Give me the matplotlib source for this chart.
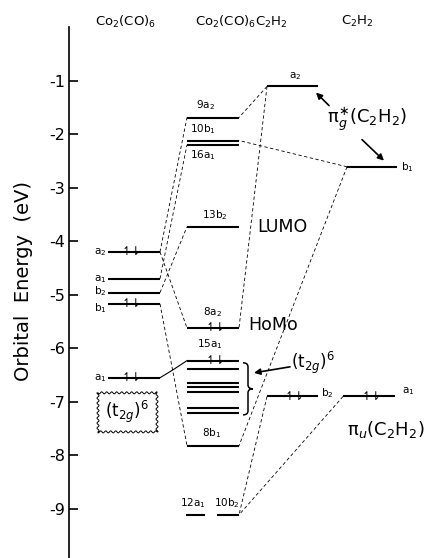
import numpy as np
import matplotlib.pyplot as plt
from matplotlib.path import Path
from matplotlib.patches import PathPatch

plt.rcParams['axes.unicode_minus'] = False
plt.rcParams['mathtext.fontset'] = 'dejavusans'
plt.rcParams['font.family'] = ['DejaVu Sans']

# Niveis do fragmento Co2(CO)6 (eV)
co_nomes = ['a$_2$', 'a$_1$', 'b$_2$', 'b$_1$', 'a$_1$']
co_E = [-4.20, -4.70, -4.96, -5.17, -6.55]
co_ocup = [1, 0, 0, 1, 1]

# Niveis do complexo Co2(CO)6C2H2 (eV)
cx_nomes = ['9a$_2$', '10b$_1$', '16a$_1$', '13b$_2$', '8a$_2$', '15a$_1$',
            '', '', '', '', '', '', '8b$_1$', '12a$_1$', '10b$_2$']
cx_E = [-1.69, -2.12, -2.20, -3.73, -5.62, -6.23,
        -6.38, -6.64, -6.72, -6.81, -7.11, -7.21, -7.82, -9.11, -9.11]
cx_ocup = [0, 0, 0, 0, 1, 1, 0, 0, 0, 0, 0, 0, 0, 0, 0]

# Niveis do C2H2 (eV)
ac_nomes = ['a$_2$', 'b$_1$', 'b$_2$', 'a$_1$']
ac_E = [-1.11, -2.61, -6.90, -6.90]
ac_ocup = [0, 0, 1, 1]

# Correlacoes (tracejadas): fragmento -> complexo e C2H2 -> complexo
lig_co = [(0, 0), (0, 4), (1, 2), (2, 3), (3, 12)]
lig_ac = [(0, 0), (0, 4), (1, 1), (1, 12), (2, 14), (3, 14)]

W, H = 425, 558
fig = plt.figure(figsize=(W/100, H/100), dpi=100)

K = 53.5  # pixels por eV


def E(y):
    # converte linha da imagem (px) em energia
    return -1 - (y - 81) / K


ax = fig.add_axes([69/W, 0, (W-69)/W, 1 - 27/H])
ax.set_xlim(69, W)
ax.set_ylim(E(H), 0)
for s in ['top', 'right', 'bottom']:
    ax.spines[s].set_visible(False)
ax.spines['left'].set_linewidth(1.2)
ax.set_xticks([])
ax.set_yticks(np.arange(-1, -10, -1))
ax.set_yticklabels([str(v) for v in range(-1, -10, -1)])
ax.tick_params(axis='y', direction='in', length=6.5, width=1.2,
               labelsize=11.5, pad=3)

# extensoes horizontais dos niveis
co_x = [(108, 160)] * 5
cx_x = [(187, 239)] * 13 + [(186, 205), (217, 239)]
ac_x = [(267, 318), (347, 397), (267, 318), (343, 395)]

tp = dict(color='k', ha='center', va='center')


def niveis(xs, Es, ocup):
    for (x0, x1), e, o in zip(xs, Es, ocup):
        ax.plot([x0, x1], [e, e], 'k-', lw=1.5, solid_capstyle='butt')
        if o:
            ax.text((x0 + x1) / 2 - 3 if x0 < 180 else (x0 + x1) / 2 + 2, e,
                    '↿⇂', fontsize=8.5, **tp)


niveis(co_x, co_E, co_ocup)
niveis(cx_x, cx_E, cx_ocup)
niveis(ac_x, ac_E, ac_ocup)

# linhas de correlacao
dash = dict(color='k', lw=0.6, ls=(0, (4, 3)))
for i, j in lig_co:
    ax.plot([co_x[i][1], cx_x[j][0]], [co_E[i], cx_E[j]], **dash)
for i, j in lig_ac:
    ax.plot([ac_x[i][0], cx_x[j][1]], [ac_E[i], cx_E[j]], **dash)
ax.plot([co_x[4][1], 173, cx_x[5][0]], [co_E[4], E(370), cx_E[5]],
        'k-', lw=0.8)

# rotulos do fragmento
for nome, e, dy in zip(co_nomes, co_E, [0, 0, 0.02, -0.07, 0]):
    ax.text(100, e + dy, nome, fontsize=7.5, **tp)

# rotulos do complexo
pos_cx = {0: (205, 106), 1: (203, 130), 2: (203, 155), 3: (215, 215),
          4: (212, 312), 5: (210, 344), 12: (212, 433), 13: (193, 503),
          14: (227, 503)}
for i, (x, y) in pos_cx.items():
    ax.text(x, E(y), cx_nomes[i], fontsize=7.5, **tp)

# rotulos do C2H2
pos_ac = [(295, 77), (407, 167), (327, 393), (408, 391)]
for nome, (x, y) in zip(ac_nomes, pos_ac):
    ax.text(x, E(y), nome, fontsize=7.5, **tp)

# cabecalhos
ax.text(126, E(22), 'Co$_2$(CO)$_6$', fontsize=9.5, clip_on=False, **tp)
ax.text(241, E(22), 'Co$_2$(CO)$_6$C$_2$H$_2$', fontsize=9.5, clip_on=False, **tp)
ax.text(357, E(22), 'C$_2$H$_2$', fontsize=9.5, clip_on=False, **tp)

fig.text(24/W, 1 - 281/H, 'Orbital  Energy  (eV)', rotation=90,
         fontsize=14, ha='center', va='center')

# anotacoes
ax.text(257, E(227), 'LUMO', fontsize=12.5, ha='left', va='center')
ax.text(248, E(325), 'HoMo', fontsize=12.5, ha='left', va='center')
ax.text(367, E(120), 'π$_g^{\\ast}$(C$_2$H$_2$)', fontsize=13, **tp)
ax.text(347, E(430), 'π$_u$(C$_2$H$_2$)', fontsize=13, ha='left', va='center')
ax.text(291, E(363), r'(t$_{2g}$)$^6$', fontsize=12, ha='left', va='center')
ax.text(127, E(412), r'(t$_{2g}$)$^6$', fontsize=12, **tp)

seta = dict(arrowstyle='-|>', lw=1.2, color='k', mutation_scale=9,
            shrinkA=0, shrinkB=0)
ax.annotate('', xy=(316, E(93)), xytext=(329, E(106)), arrowprops=seta)
ax.annotate('', xy=(384, E(161)), xytext=(362, E(140)), arrowprops=seta)
ax.annotate('', xy=(254, E(373)), xytext=(290, E(367)), arrowprops=seta)

# chave do bloco t2g
xa, xb, xt = 243, 248, 253
ya, ym, yb = 363, 389, 415
pts = [(xa, ya), (xb, ya), (xb, ya + 4),
       (xb, ym - 4), (xb, ym), (xt, ym),
       (xb, ym), (xb, ym + 4),
       (xb, yb - 4), (xb, yb), (xa, yb)]
cod = [Path.MOVETO, Path.CURVE3, Path.CURVE3,
       Path.LINETO, Path.CURVE3, Path.CURVE3,
       Path.CURVE3, Path.CURVE3,
       Path.LINETO, Path.CURVE3, Path.CURVE3]
ax.add_patch(PathPatch(Path([(x, E(y)) for x, y in pts], cod),
                       fc='none', ec='k', lw=1.1))

# caixa ondulada
cantos = [(98, 393), (157, 393), (157, 432), (98, 432), (98, 393)]
xs, ys = [], []
for (x0, y0), (x1, y1) in zip(cantos[:-1], cantos[1:]):
    L = np.hypot(x1 - x0, y1 - y0)
    t = np.linspace(0, 1, int(L * 3))
    nx, ny = -(y1 - y0) / L, (x1 - x0) / L
    w = 1.0 * np.sin(2 * np.pi * t * L / 5.0)
    xs += list(x0 + (x1 - x0) * t + nx * w)
    ys += list(E(y0 + (y1 - y0) * t + ny * w))
ax.plot(xs, ys, 'k-', lw=0.7)

fig.savefig('out.png', dpi=100)
